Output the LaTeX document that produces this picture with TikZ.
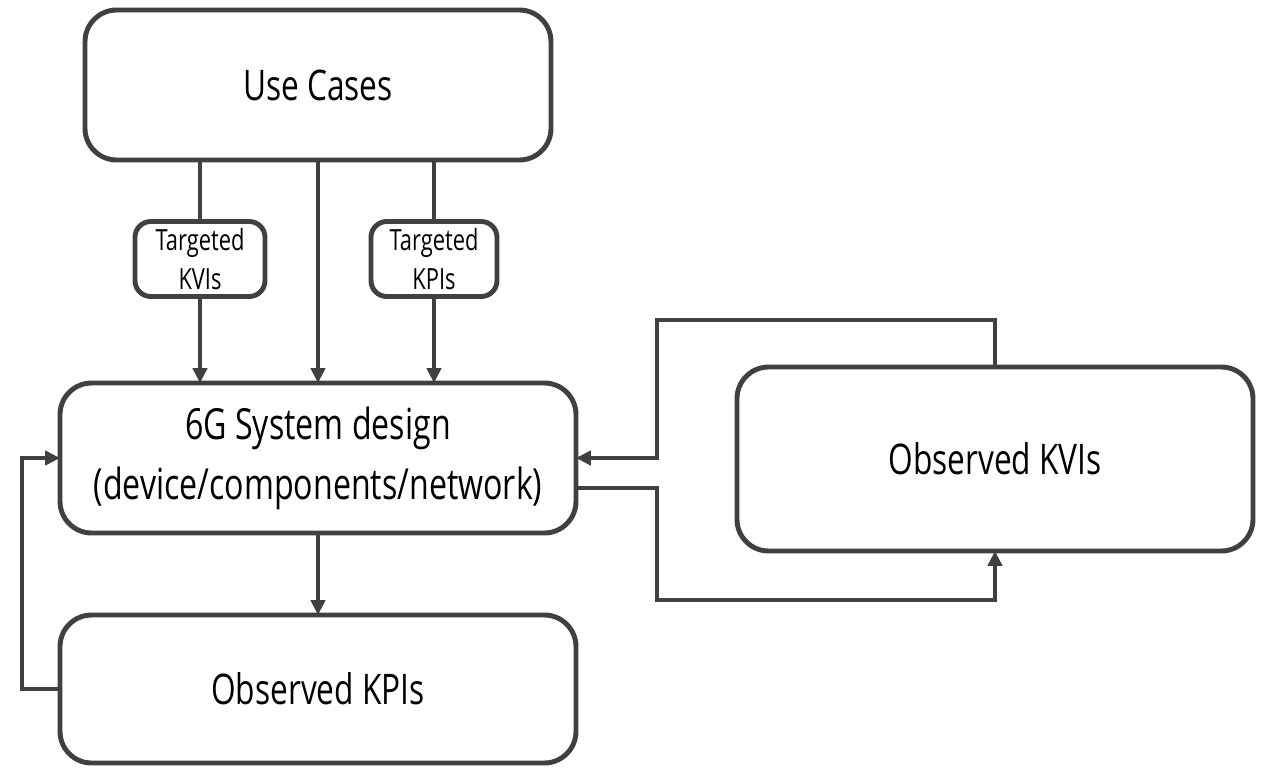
\documentclass[tikz,border=0pt]{standalone}
\usepackage{fontspec}
\setmainfont{Open Sans}[FakeStretch=0.75]
\usepackage{tikz}
\usetikzlibrary{arrows.meta, positioning, calc}
\definecolor{kgray}{HTML}{404040}

\begin{document}
\begin{tikzpicture}[
  bigbox/.style={
    rectangle,
    rounded corners=9pt,
    draw=kgray,
    line width=1.4pt,
    fill=white,
    outer sep=0pt,
    align=center,
    text=black
  },
  tagbox/.style={
    rectangle,
    rounded corners=4.5pt,
    draw=kgray,
    line width=1.4pt,
    fill=white,
    outer sep=0pt,
    align=center,
    inner sep=0.5pt,
    font=\fontsize{8.3}{11}\selectfont
  },
  arr/.style={
    draw=kgray,
    line width=1.2pt,
    -{Triangle[length=4.2pt,width=4pt]}
  },
  link/.style={
    draw=kgray,
    line width=1.2pt
  }
]
  \useasboundingbox (0,0) rectangle (12.63,-7.70);

  % boxes
  \node[bigbox, minimum width=4.66cm, minimum height=1.50cm, font=\fontsize{12}{14}\selectfont] (usecases) at (3.18,-0.85) {Use Cases};
  \node[tagbox, minimum width=1.30cm, minimum height=0.75cm] (tkvi) at (2.00,-2.59) {Targeted\\KVIs};
  \node[tagbox, minimum width=1.26cm, minimum height=0.75cm] (tkpi) at (4.34,-2.59) {Targeted\\KPIs};
  \node[bigbox, minimum width=5.16cm, minimum height=1.50cm, font=\fontsize{12.2}{17}\selectfont] (sysdesign) at (3.18,-4.58) {6G System design\\(device/components/network)};
  \node[bigbox, minimum width=5.16cm, minimum height=1.48cm, font=\fontsize{12}{14}\selectfont] (okpi) at (3.18,-6.89) {Observed KPIs};
  \node[bigbox, minimum width=5.16cm, minimum height=1.84cm, font=\fontsize{12}{14}\selectfont] (okvi) at (9.95,-4.59) {Observed KVIs};

  % feedback corners
  \coordinate (fbtop) at (6.57,-3.20);
  \coordinate (fbbot) at (6.57,-6.00);
  \coordinate (fbleft) at (0.22,0);

  % top down
  \draw[link] (tkvi.north |- usecases.south) -- (tkvi.north);
  \draw[arr] (tkvi.south) -- (tkvi.south |- sysdesign.north);
  \draw[arr] (usecases.south) -- (sysdesign.north);
  \draw[link] (tkpi.north |- usecases.south) -- (tkpi.north);
  \draw[arr] (tkpi.south) -- (tkpi.south |- sysdesign.north);
  \draw[arr] (sysdesign.south) -- (okpi.north);

  % loops
  \draw[arr] (okpi.west) -- (okpi.west -| fbleft) |- (sysdesign.west);
  \draw[arr] (okvi.north) |- (fbtop) |- (sysdesign.east);
  \draw[arr] ([yshift=-3mm]sysdesign.east) -| (fbbot) -| (okvi.south);
\end{tikzpicture}
\end{document}
